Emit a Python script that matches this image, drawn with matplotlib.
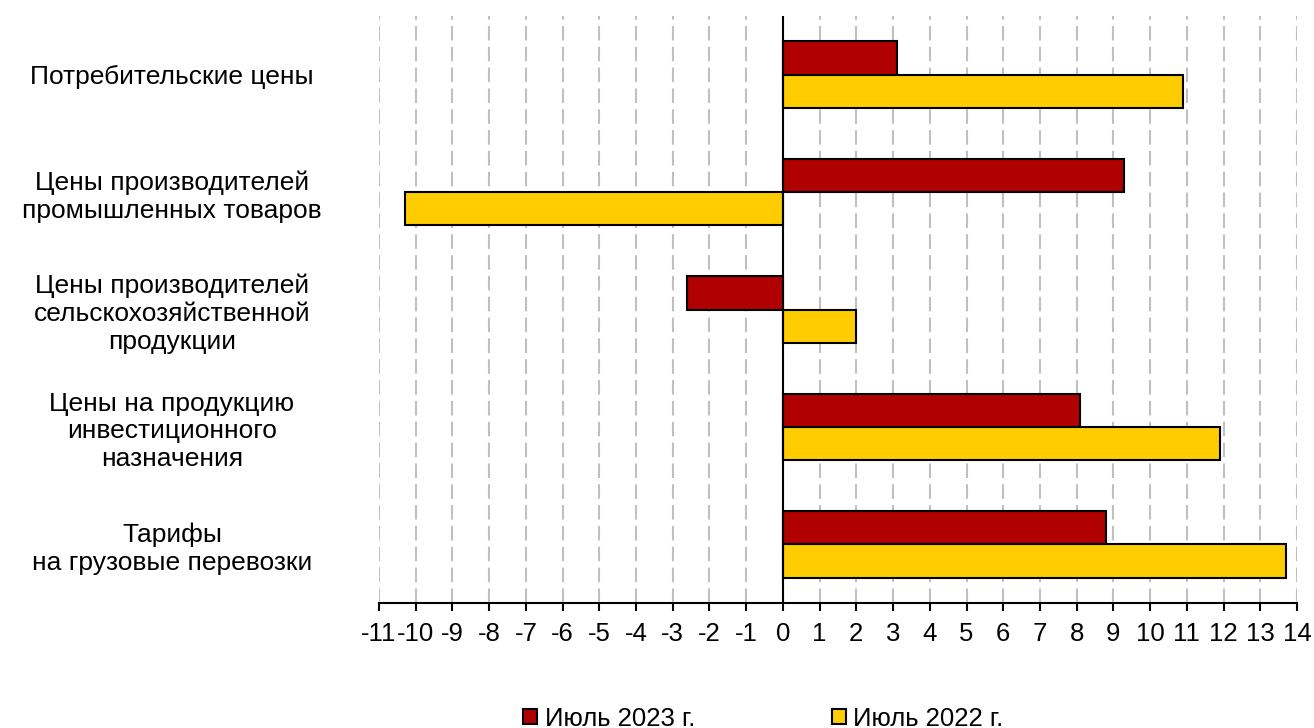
import numpy as np
import matplotlib.pyplot as plt

# данные
categories = ['Потребительские цены',
              'Цены производителей\nпромышленных товаров',
              'Цены производителей\nсельскохозяйственной\nпродукции',
              'Цены на продукцию\nинвестиционного\nназначения',
              'Тарифы\nна грузовые перевозки']
jul_2023 = [3.1, 9.3, -2.6, 8.1, 8.8]
jul_2022 = [10.9, -10.3, 2.0, 11.9, 13.7]
series_names = ['Июль 2023 г.', 'Июль 2022 г.']
x_ticks = list(range(-11, 15))

plt.rcParams['font.family'] = ['Liberation Sans', 'DejaVu Sans']
plt.rcParams['axes.unicode_minus'] = False

fig = plt.figure(figsize=(13.14, 7.28), dpi=100)
ax = fig.add_axes([0.2884, 0.1717, 0.6987, 0.8063])

y = np.arange(len(categories))
h = 0.284
ax.barh(y - h / 2, jul_2023, height=h, color='#B00000', edgecolor='black',
        linewidth=1.5, label=series_names[0], zorder=3)
ax.barh(y + h / 2, jul_2022, height=h, color='#FFCC00', edgecolor='black',
        linewidth=1.5, label=series_names[1], zorder=3)

ax.set_ylim(len(categories) - 0.5, -0.5)
ax.set_xlim(-11, 14)
ax.set_xticks(x_ticks)
ax.xaxis.grid(True, color='#c0c0c0', linestyle=(0, (7, 3)), linewidth=1.5)
ax.set_axisbelow(True)
ax.axvline(0, color='black', lw=1.5, zorder=4)

for s in ['top', 'right', 'left']:
    ax.spines[s].set_visible(False)
ax.spines['bottom'].set_linewidth(1.5)
ax.tick_params(axis='x', direction='out', length=6, width=1.5, labelsize=18.5, pad=8)

ax.set_yticks(y)
ax.set_yticklabels(categories, fontsize=19, ha='center', multialignment='center')
ax.tick_params(axis='y', length=0, pad=(379 - 172) * 0.72)

fig.legend(loc='center', bbox_to_anchor=(0.581, 0.013), ncol=2, frameon=False,
           fontsize=18.5, handlelength=0.55, handleheight=0.55, handletextpad=0.3,
           columnspacing=5.3)

fig.savefig('out.png', dpi=100)
